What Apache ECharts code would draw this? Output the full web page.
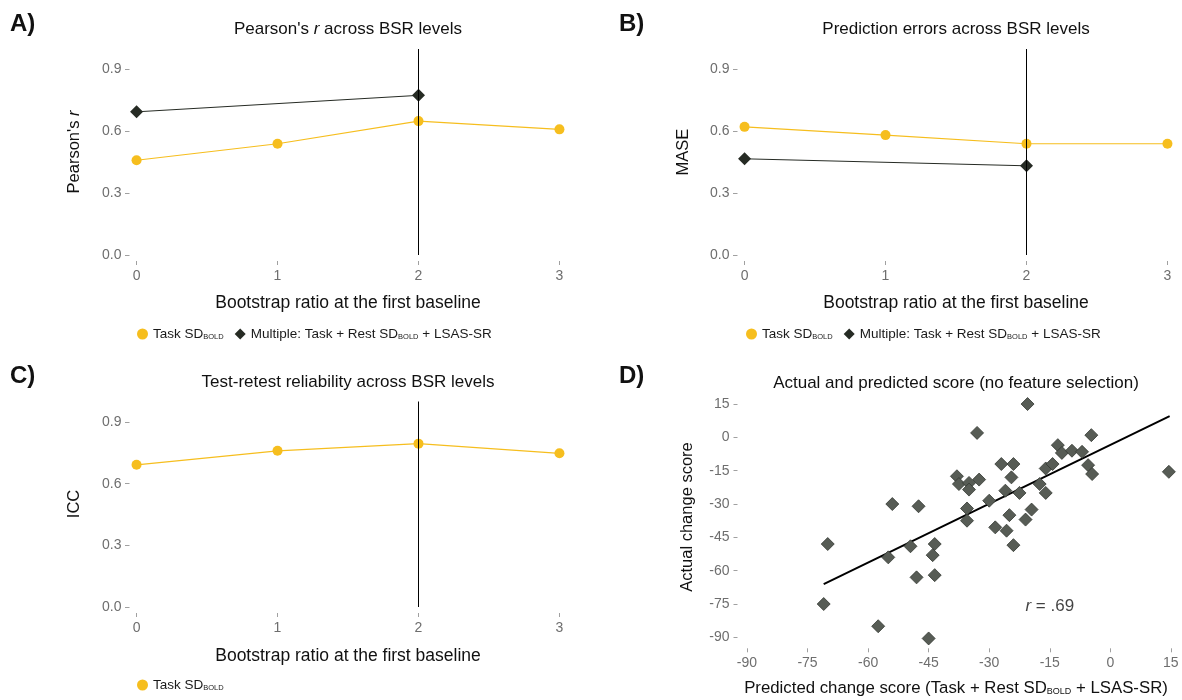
<!DOCTYPE html>
<html>
<head>
<meta charset="utf-8">
<script src="https://cdn.jsdelivr.net/npm/echarts@6/dist/echarts.min.js"></script>
<style>
html,body{margin:0;padding:0;background:#fff;}
#chart{width:1182px;height:700px;}
</style>
</head>
<body>
<div id="chart"></div>
<script>
// ---------- data ----------
const bsrLevels = [0, 1, 2, 3];
const multipleLevels = [0, 2];
const selectedBSR = 2;

const pearsonTask = [0.46, 0.54, 0.65, 0.61];
const pearsonMultiple = [0.695, 0.775];

const maseTask = [0.622, 0.582, 0.54, 0.54];
const maseMultiple = [0.467, 0.433];

const iccTask = [0.692, 0.76, 0.795, 0.748];

const metricTicks = [0, 0.3, 0.6, 0.9];
const scoreTicks = [-90, -75, -60, -45, -30, -15, 0, 15];

const predictedScore = [-54, -47.5, -70, -49.5, -55, -43.5, -44, -48, -43.5, -71, -57.5, -45,
  -20.5, -33, -4.7, -13, -12, -9.5, -7, -5.5, -4.5, 14.5, -27, -24, -24.5, -16, -14.3,
  -38, -37.5, -35, -35, -32.5, -26, -22.5, -17.5, -16, -30, -35.5, -35.5, -25, -19.5, -21,
  -28.5, -25.7, -24];
const actualScore = [-30, -31, -48, -49, -54, -48, -53, -63, -62, -75, -85, -90.5,
  15, 2, 1, -3.5, -7, -6, -6.5, -12.5, -16.5, -15.5, -12, -12, -18, -14, -12,
  -17.5, -21, -20.5, -23.5, -19, -24, -25, -21, -25, -28.5, -32, -37.5, -35, -32.5, -37,
  -40.5, -42, -48.5];

const fitX = [-71, 14.7];
const fitY = [-66, 9.6];
const rLabel = [-15, -76];

const TASK = 'Task SD_BOLD';
const MULTI = 'Multiple: Task + Rest SD_BOLD + LSAS-SR';

// ---------- styles ----------
const FONT = 'Liberation Sans';
const YELLOW = '#F6BE1E';
const DARK = '#262b24';
const TICKCOL = '#a0a0a0';
const LABCOL = '#6e6e6e';

const zip = (xs, ys) => xs.map((x, i) => [x, ys[i]]);

const grids = [
  {left: 129.5, top: 49, width: 437, height: 206},
  {left: 737.5, top: 49, width: 437, height: 206},
  {left: 129.5, top: 401.5, width: 437, height: 205.5},
  {left: 737.5, top: 399.6, width: 437, height: 242.2}
];

function bsrXAxis(gi) {
  return {
    type: 'value', gridIndex: gi, min: -0.05, max: 3.05, offset: 6,
    axisLine: {show: false, onZero: false},
    axisTick: {show: true, length: 4, customValues: bsrLevels, lineStyle: {color: TICKCOL, width: 1}},
    axisLabel: {customValues: bsrLevels, color: LABCOL, fontSize: 14, fontFamily: FONT, margin: 8},
    splitLine: {show: false}
  };
}
function metricYAxis(gi) {
  return {
    type: 'value', gridIndex: gi, min: 0, max: 1,
    axisLine: {show: false, onZero: false},
    axisTick: {show: true, length: 4.5, customValues: metricTicks, lineStyle: {color: TICKCOL, width: 1}},
    axisLabel: {customValues: metricTicks, formatter: v => v.toFixed(1), color: LABCOL, fontSize: 14, fontFamily: FONT, margin: 8},
    splitLine: {show: false}
  };
}
const vline = {
  silent: true, symbol: 'none', animation: false,
  label: {show: false},
  lineStyle: {color: '#000', width: 1, type: 'solid'},
  data: [{xAxis: selectedBSR}]
};
function taskSeries(gi, vals, withLine) {
  const s = {
    name: TASK, type: 'line', xAxisIndex: gi, yAxisIndex: gi,
    data: zip(bsrLevels, vals), symbol: 'circle', symbolSize: 10,
    itemStyle: {color: YELLOW}, lineStyle: {color: YELLOW, width: 1.2},
    z: 3
  };
  if (withLine) s.markLine = vline;
  return s;
}
function multiSeries(gi, vals) {
  return {
    name: MULTI, type: 'line', xAxisIndex: gi, yAxisIndex: gi,
    data: zip(multipleLevels, vals), symbol: 'diamond', symbolSize: 13,
    itemStyle: {color: DARK}, lineStyle: {color: DARK, width: 1},
    z: 4
  };
}

const legendText = {
  color: '#1a1a1a', fontSize: 13.5, fontFamily: FONT,
  rich: {sub: {fontSize: 7.5, fontFamily: FONT, color: '#1a1a1a', verticalAlign: 'bottom'}}
};
const legendFmt = n => n.replace('SD_BOLD', 'SD{sub|BOLD}');
function legend(left, top, names) {
  return {
    left: left, top: top, orient: 'horizontal', itemWidth: 11, itemHeight: 11, itemGap: 11,
    selectedMode: false, formatter: legendFmt, textStyle: legendText,
    data: names.map(n => ({name: n, icon: n === TASK ? 'circle' : 'diamond'}))
  };
}

function txt(x, y, text, size, opts) {
  opts = opts || {};
  const subSize = opts.sub || Math.round(size * 0.6);
  return {
    type: 'text', x: x, y: y, rotation: opts.rot || 0, silent: true,
    style: {
      text: text, fontSize: size, fontFamily: FONT, fill: '#111',
      fontWeight: opts.bold ? 'bold' : 'normal',
      align: opts.align || 'center', verticalAlign: 'middle',
      rich: {
        i: {fontStyle: 'italic', fontSize: size, fontFamily: FONT, fill: '#111'},
        sub: {fontSize: subSize, fontFamily: FONT, fill: '#111', verticalAlign: 'bottom'}
      }
    }
  };
}

const scoreAxisBase = {
  type: 'value', gridIndex: 3,
  axisLine: {show: false, onZero: false},
  axisTick: {show: true, length: 4, customValues: scoreTicks, lineStyle: {color: TICKCOL, width: 1}},
  axisLabel: {customValues: scoreTicks, color: LABCOL, fontSize: 14, fontFamily: FONT, margin: 8},
  splitLine: {show: false}
};

const option = {
  animation: false,
  backgroundColor: '#fff',
  grid: grids,
  xAxis: [bsrXAxis(0), bsrXAxis(1), bsrXAxis(2),
    Object.assign({}, scoreAxisBase, {min: -92.35, max: 15.9, offset: 6.5})],
  yAxis: [metricYAxis(0), metricYAxis(1), metricYAxis(2),
    Object.assign({}, scoreAxisBase, {min: -92, max: 17})],
  legend: [
    legend(132, 322, [TASK, MULTI]),
    legend(741, 322, [TASK, MULTI]),
    legend(132, 673, [TASK])
  ],
  series: [
    taskSeries(0, pearsonTask, true),
    multiSeries(0, pearsonMultiple),
    taskSeries(1, maseTask, true),
    multiSeries(1, maseMultiple),
    taskSeries(2, iccTask, true),
    {
      name: 'fit', type: 'line', xAxisIndex: 3, yAxisIndex: 3,
      data: zip(fitX, fitY), symbol: 'none', lineStyle: {color: '#000', width: 2}, z: 2
    },
    {
      name: 'scores', type: 'scatter', xAxisIndex: 3, yAxisIndex: 3,
      data: zip(predictedScore, actualScore), symbol: 'diamond', symbolSize: 13,
      itemStyle: {color: '#575c55', borderColor: '#343832', borderWidth: 0.8, opacity: 1}, z: 3
    },
    {
      name: 'r', type: 'scatter', xAxisIndex: 3, yAxisIndex: 3,
      data: [rLabel], symbolSize: 0, silent: true,
      label: {show: true, position: 'inside', formatter: '{i|r} = .69', fontSize: 17, fontFamily: FONT, color: '#111',
        rich: {i: {fontStyle: 'italic', fontSize: 17, fontFamily: FONT, color: '#111'}}}
    }
  ],
  graphic: [
    txt(10, 24, 'A)', 24, {bold: true, align: 'left'}),
    txt(619, 24, 'B)', 24, {bold: true, align: 'left'}),
    txt(10, 376, 'C)', 24, {bold: true, align: 'left'}),
    txt(619, 376, 'D)', 24, {bold: true, align: 'left'}),
    txt(348, 29, "Pearson's {i|r} across BSR levels", 17),
    txt(956, 29, 'Prediction errors across BSR levels', 17),
    txt(348, 382, 'Test-retest reliability across BSR levels', 17),
    txt(956, 383, 'Actual and predicted score (no feature selection)', 17),
    txt(348, 303, 'Bootstrap ratio at the first baseline', 17.5),
    txt(956, 303, 'Bootstrap ratio at the first baseline', 17.5),
    txt(348, 656, 'Bootstrap ratio at the first baseline', 17.5),
    txt(956, 688, 'Predicted change score (Task + Rest SD{sub|BOLD} + LSAS-SR)', 16.8, {sub: 9}),
    txt(74, 152, "Pearson's {i|r}", 16.5, {rot: Math.PI / 2}),
    txt(683, 152, 'MASE', 16.5, {rot: Math.PI / 2}),
    txt(74, 504, 'ICC', 16.5, {rot: Math.PI / 2}),
    txt(687, 517, 'Actual change score', 16.5, {rot: Math.PI / 2})
  ]
};

const chart = echarts.init(document.getElementById('chart'), null, {renderer: 'canvas'});
chart.setOption(option);
</script>
</body>
</html>
